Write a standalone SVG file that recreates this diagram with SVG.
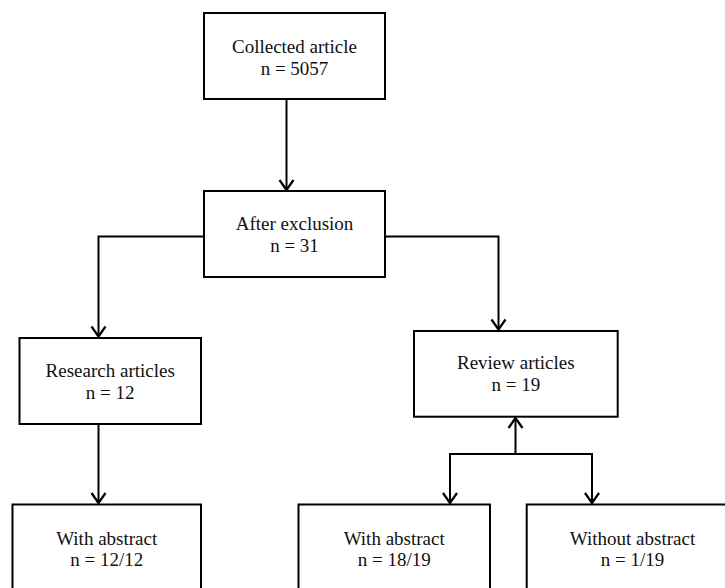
<svg xmlns="http://www.w3.org/2000/svg" width="725" height="588" viewBox="0 0 725 588">
<style>
.box{fill:#fff;stroke:#000;stroke-width:2}
.lbl{font-family:"Liberation Serif","Times New Roman",serif;font-size:19px;fill:#111;text-anchor:middle}
.con{fill:none;stroke:#000;stroke-width:2}
</style>
<defs>
<marker id="arr" markerUnits="userSpaceOnUse" markerWidth="24" markerHeight="24" viewBox="-12 -12 24 24" refX="0" refY="0" orient="auto">
<path d="M-10,-7 L0,0 L-10,7" fill="none" stroke="#000" stroke-width="2.2"/>
</marker>
</defs>
<rect width="725" height="588" fill="#fff"/>
<g id="connectors">
<path class="con" d="M286.5,99 V190" marker-end="url(#arr)"/>
<path class="con" d="M204,236.5 H98.5 V336.5" marker-end="url(#arr)"/>
<path class="con" d="M385,236.5 H498.5 V329.5" marker-end="url(#arr)"/>
<path class="con" d="M98.5,424 V503" marker-end="url(#arr)"/>
<path class="con" d="M515.5,454 V418" marker-end="url(#arr)"/>
<path class="con" d="M450,503 V454 H592 V503"/>
<path class="con" d="M450,460 V503" marker-end="url(#arr)"/>
<path class="con" d="M592,460 V503" marker-end="url(#arr)"/>
</g>
<g id="collected">
<rect class="box" x="204" y="13" width="181" height="86"/>
<text class="lbl" x="294.5" y="52.5">Collected article</text>
<text class="lbl" x="294.5" y="74.5">n = 5057</text>
</g>
<g id="after">
<rect class="box" x="204" y="191" width="181" height="86"/>
<text class="lbl" x="294.5" y="230">After exclusion</text>
<text class="lbl" x="294.5" y="251.5">n = 31</text>
</g>
<g id="research">
<rect class="box" x="19.5" y="338" width="181.5" height="86"/>
<text class="lbl" x="110.2" y="376.7">Research articles</text>
<text class="lbl" x="110.2" y="398.7">n = 12</text>
</g>
<g id="review">
<rect class="box" x="414" y="331" width="203.7" height="85.7"/>
<text class="lbl" x="515.8" y="369.3">Review articles</text>
<text class="lbl" x="515.8" y="390.7">n = 19</text>
</g>
<g id="with1">
<rect class="box" x="12.5" y="504.5" width="188.5" height="100"/>
<text class="lbl" x="106.7" y="545">With abstract</text>
<text class="lbl" x="106.7" y="565.7">n = 12/12</text>
</g>
<g id="with2">
<rect class="box" x="298.5" y="504.5" width="191.5" height="100"/>
<text class="lbl" x="394.2" y="545">With abstract</text>
<text class="lbl" x="394.2" y="565.7">n = 18/19</text>
</g>
<g id="without">
<rect class="box" x="526.7" y="504.5" width="212" height="100"/>
<text class="lbl" x="632.5" y="545">Without abstract</text>
<text class="lbl" x="632.5" y="565.7">n = 1/19</text>
</g>
</svg>
